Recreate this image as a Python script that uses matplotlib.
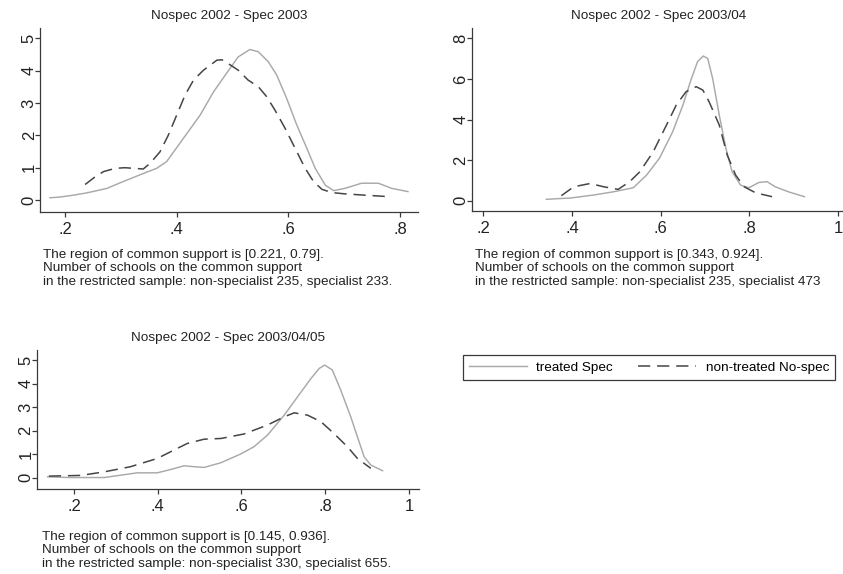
import numpy as np
import matplotlib
matplotlib.use("Agg")
import matplotlib.pyplot as plt

plt.rcParams['font.family'] = ['Liberation Sans', 'DejaVu Sans']

# ---- data (kernel densities of the propensity score) ----
# panel 1: Nospec 2002 - Spec 2003
p1_spec_x = [0.173, 0.190, 0.215, 0.239, 0.275, 0.304, 0.340, 0.364, 0.382, 0.412,
             0.442, 0.466, 0.487, 0.510, 0.531, 0.546, 0.564, 0.579, 0.597, 0.615,
             0.633, 0.648, 0.666, 0.681, 0.701, 0.731, 0.761, 0.785, 0.814]
p1_spec_y = [0.07, 0.09, 0.15, 0.22, 0.36, 0.57, 0.82, 0.98, 1.19, 1.91,
             2.63, 3.35, 3.87, 4.43, 4.66, 4.59, 4.28, 3.87, 3.14, 2.32,
             1.60, 0.98, 0.46, 0.29, 0.36, 0.52, 0.52, 0.36, 0.26]
p1_nospec_x = [0.236, 0.254, 0.269, 0.290, 0.307, 0.340, 0.352, 0.370, 0.385, 0.400,
               0.415, 0.430, 0.448, 0.472, 0.481, 0.487, 0.496, 0.510, 0.528, 0.546,
               0.561, 0.576, 0.594, 0.612, 0.630, 0.645, 0.660, 0.678, 0.701, 0.737, 0.783]
p1_nospec_y = [0.48, 0.72, 0.88, 0.98, 1.00, 0.96, 1.13, 1.49, 2.01, 2.63,
               3.25, 3.71, 4.02, 4.33, 4.34, 4.28, 4.18, 4.02, 3.71, 3.51,
               3.20, 2.78, 2.22, 1.60, 0.98, 0.57, 0.33, 0.23, 0.19, 0.15, 0.10]

# panel 2: Nospec 2002 - Spec 2003/04
p2_spec_x = [0.342, 0.374, 0.395, 0.448, 0.493, 0.538, 0.568, 0.597, 0.627, 0.650,
             0.668, 0.683, 0.696, 0.706, 0.717, 0.732, 0.747, 0.761, 0.780, 0.799,
             0.821, 0.840, 0.858, 0.888, 0.924]
p2_spec_y = [0.07, 0.11, 0.13, 0.28, 0.44, 0.64, 1.26, 2.09, 3.40, 4.71,
             5.94, 6.85, 7.13, 7.01, 6.03, 4.22, 2.58, 1.43, 0.77, 0.64,
             0.90, 0.94, 0.69, 0.44, 0.20]
p2_nospec_x = [0.376, 0.404, 0.441, 0.471, 0.504, 0.530, 0.553, 0.583, 0.613, 0.635,
               0.657, 0.680, 0.695, 0.709, 0.732, 0.750, 0.769, 0.788, 0.814, 0.851]
p2_nospec_y = [0.25, 0.69, 0.85, 0.69, 0.56, 0.94, 1.43, 2.41, 3.73, 4.71,
               5.37, 5.62, 5.45, 4.88, 3.73, 2.25, 1.26, 0.69, 0.39, 0.20]

# panel 3: Nospec 2002 - Spec 2003/04/05
p3_spec_x = [0.137, 0.189, 0.272, 0.312, 0.351, 0.399, 0.431, 0.463, 0.487, 0.511,
             0.551, 0.598, 0.630, 0.662, 0.702, 0.734, 0.766, 0.786, 0.799, 0.817,
             0.837, 0.861, 0.877, 0.893, 0.909, 0.937]
p3_spec_y = [0.04, 0.01, 0.01, 0.11, 0.21, 0.21, 0.35, 0.51, 0.47, 0.44,
             0.64, 1.01, 1.32, 1.81, 2.66, 3.44, 4.22, 4.65, 4.79, 4.58,
             3.73, 2.59, 1.74, 0.89, 0.54, 0.30]
p3_nospec_x = [0.140, 0.216, 0.272, 0.335, 0.399, 0.439, 0.471, 0.511, 0.551, 0.606,
               0.662, 0.702, 0.726, 0.758, 0.790, 0.821, 0.853, 0.877, 0.909]
p3_nospec_y = [0.07, 0.10, 0.25, 0.47, 0.82, 1.18, 1.46, 1.64, 1.67, 1.86,
               2.24, 2.59, 2.76, 2.66, 2.38, 1.88, 1.32, 0.82, 0.40]

titles = ["Nospec 2002 - Spec 2003",
          "Nospec 2002 - Spec 2003/04",
          "Nospec 2002 - Spec 2003/04/05"]

notes = [["The region of common support is [0.221, 0.79].",
          "Number of schools on the common support",
          "in the restricted sample: non-specialist 235, specialist 233."],
         ["The region of common support is [0.343, 0.924].",
          "Number of schools on the common support",
          "in the restricted sample: non-specialist 235, specialist 473"],
         ["The region of common support is [0.145, 0.936].",
          "Number of schools on the common support",
          "in the restricted sample: non-specialist 330, specialist 655."]]

xticks_p1 = [0.2, 0.4, 0.6, 0.8]
xlabels_p1 = ['.2', '.4', '.6', '.8']
xticks_p23 = [0.2, 0.4, 0.6, 0.8, 1.0]
xlabels_p23 = ['.2', '.4', '.6', '.8', '1']
yticks_p13 = [0, 1, 2, 3, 4, 5]
yticks_p2 = [0, 2, 4, 6, 8]

legend_labels = ["treated Spec", "non-treated No-spec"]

# ---- layout (pixels of an 843x574 canvas) ----
W, H = 843, 574
SOLID_C = '#a9a9a9'
DASH_C = '#454545'
AX_C = '#3a3a3a'
FS = 9.7


def px_rect(left, top, right, bottom):
    return [left / W, 1 - bottom / H, (right - left) / W, (bottom - top) / H]


fig = plt.figure(figsize=(W / 100, H / 100), dpi=100)

panels = [
    dict(rect=(40, 28, 418, 211.7), xlim=(0.1552, 0.832), ylim=(-0.362, 5.325),
         xt=xticks_p1, xl=xlabels_p1, yt=yticks_p13,
         spec=(p1_spec_x, p1_spec_y), nospec=(p1_nospec_x, p1_nospec_y),
         title_xy=(229, 16), note_xy=(43, 255)),
    dict(rect=(471.7, 28, 843, 210.7), xlim=(0.1738, 1.011), ylim=(-0.49, 8.51),
         xt=xticks_p23, xl=xlabels_p23, yt=yticks_p2,
         spec=(p2_spec_x, p2_spec_y), nospec=(p2_nospec_x, p2_nospec_y),
         title_xy=(659, 16), note_xy=(475, 255)),
    dict(rect=(36.7, 350, 419, 489.3), xlim=(0.111, 1.024), ylim=(-0.49, 5.43),
         xt=xticks_p23, xl=xlabels_p23, yt=yticks_p13,
         spec=(p3_spec_x, p3_spec_y), nospec=(p3_nospec_x, p3_nospec_y),
         title_xy=(228, 338), note_xy=(42, 537)),
]

handles = None
for i, p in enumerate(panels):
    ax = fig.add_axes(px_rect(*p['rect']))
    l1, = ax.plot(p['spec'][0], p['spec'][1], color=SOLID_C, lw=1.05)
    l2, = ax.plot(p['nospec'][0], p['nospec'][1], color=DASH_C, lw=1.1)
    l2.set_dashes((8, 4.5))
    handles = [l1, l2]

    ax.set_xlim(*p['xlim'])
    ax.set_ylim(*p['ylim'])
    ax.set_xticks(p['xt'])
    ax.set_xticklabels(p['xl'])
    ax.set_yticks(p['yt'])
    ax.set_yticklabels([str(v) for v in p['yt']], rotation=90, va='center')
    for s in ['top', 'right']:
        ax.spines[s].set_visible(False)
    for s in ['left', 'bottom']:
        ax.spines[s].set_color(AX_C)
        ax.spines[s].set_linewidth(0.9)
    ax.tick_params(direction='out', length=3.8, width=0.9, color=AX_C,
                   labelsize=12, labelcolor='#222222')
    ax.tick_params(axis='x', pad=3.5)
    ax.tick_params(axis='y', pad=-1.5)
    ax.set_facecolor('white')

    tx, ty = p['title_xy']
    fig.text(tx / W, 1 - ty / H, titles[i], ha='center', va='center',
             fontsize=FS, color='#222222')
    nx, ny = p['note_xy']
    for k, line in enumerate(notes[i]):
        fig.text(nx / W, 1 - (ny + 13.5 * k) / H, line, ha='left', va='center',
                 fontsize=FS, color='#222222')

leg = fig.legend(handles, legend_labels, loc='center', ncol=2,
                 bbox_to_anchor=(648.9 / W, 1 - 367.5 / H),
                 fontsize=FS, handlelength=4.3, handletextpad=0.7,
                 columnspacing=1.9, borderpad=0.45, fancybox=False,
                 framealpha=1, edgecolor=AX_C)
leg.get_frame().set_linewidth(0.9)

fig.savefig('out.png', dpi=100, facecolor='white')
